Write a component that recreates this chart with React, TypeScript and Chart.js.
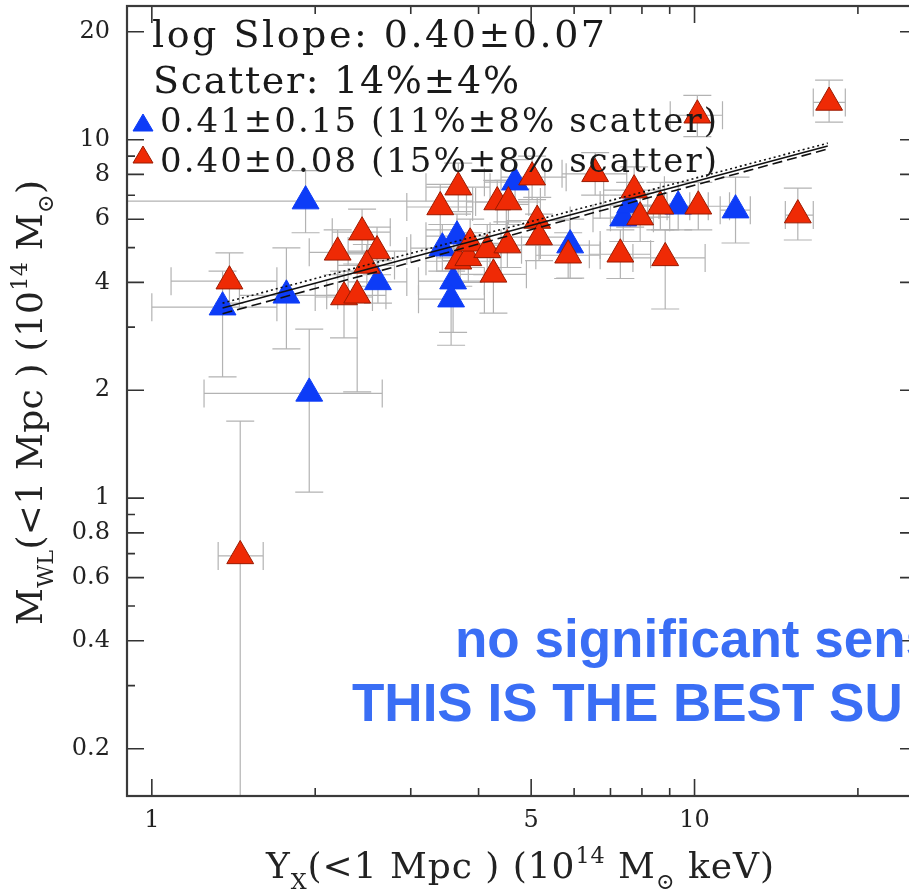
import React, { useEffect, useRef } from 'react';
import { Chart, registerables } from 'chart.js';

Chart.register(...registerables);

// ---------- data ----------
const redX = [1.39, 1.455, 2.20, 2.44, 2.60, 2.49, 2.26, 2.39, 3.40, 3.67, 3.67, 3.83, 3.86, 4.15, 4.26, 4.33, 4.54, 4.52, 5.02, 5.13, 5.17, 5.85, 6.56, 7.30, 7.74, 7.94, 8.65, 8.83, 10.16, 10.12, 15.5, 17.7];
const redY = [4.03, 0.69, 4.85, 5.52, 4.89, 4.46, 3.64, 3.68, 6.49, 7.37, 4.58, 4.68, 5.14, 4.93, 4.21, 6.70, 6.70, 5.08, 7.86, 5.95, 5.35, 4.76, 8.03, 4.79, 7.23, 6.08, 6.52, 4.68, 6.52, 11.7, 6.16, 12.7];
const redXLo = [1.085, 1.325, 1.95, 2.15, 2.3, 2.2, 2.0, 2.1, 2.95, 3.2, 3.2, 3.35, 3.4, 3.6, 3.7, 3.8, 3.95, 3.9, 4.4, 4.5, 4.5, 5.1, 5.7, 6.4, 6.8, 7.0, 7.6, 7.7, 8.9, 9.02, 14.7, 16.55];
const redXHi = [1.70, 1.604, 2.5, 2.75, 2.95, 2.8, 2.55, 2.7, 3.9, 4.2, 4.2, 4.4, 4.4, 4.8, 4.9, 4.95, 5.2, 5.2, 5.8, 5.9, 5.9, 6.7, 7.5, 8.3, 8.8, 9.0, 9.8, 10.46, 11.6, 11.26, 16.55, 18.96];
const redYLo = [3.5, 0.1, 4.2, 4.8, 4.2, 3.9, 2.80, 1.98, 5.6, 6.3, 3.9, 4.0, 4.4, 4.2, 3.28, 5.8, 5.8, 4.4, 6.8, 5.1, 4.6, 4.1, 7.0, 4.1, 6.2, 5.2, 5.6, 3.37, 5.6, 10.2, 5.25, 11.2];
const redYHi = [4.83, 1.64, 5.6, 6.4, 5.7, 5.1, 4.3, 4.5, 7.5, 8.6, 5.3, 5.5, 6.0, 5.8, 5.0, 7.7, 7.7, 5.9, 9.0, 6.9, 6.2, 5.5, 9.2, 5.6, 8.4, 7.1, 7.6, 5.6, 7.6, 13.3, 7.33, 14.66];

const blueX = [1.35, 1.77, 1.92, 1.95, 2.61, 3.43, 3.65, 3.59, 3.56, 4.67, 5.90, 7.39, 7.61, 9.33, 11.9];
const blueY = [3.41, 3.68, 6.74, 1.96, 4.01, 4.98, 5.38, 4.03, 3.59, 7.61, 5.08, 6.04, 6.57, 6.52, 6.36];
const blueXLo = [1.0, 1.45, 0.85, 1.248, 2.3, 3.0, 3.2, 3.1, 3.1, 4.1, 5.2, 6.5, 6.7, 8.2, 11.15];
const blueXHi = [1.70, 2.2, 3.9, 2.658, 2.95, 3.9, 4.2, 4.1, 4.1, 5.3, 6.7, 8.4, 8.6, 10.6, 12.67];
const blueYLo = [2.18, 2.61, 5.5, 1.04, 3.5, 4.3, 4.6, 2.9, 2.67, 6.6, 4.11, 5.2, 5.7, 5.6, 5.15];
const blueYHi = [4.3, 4.99, 8.2, 2.96, 4.6, 5.8, 6.2, 4.9, 4.3, 8.8, 6.0, 7.0, 7.6, 7.6, 7.86];

const fitX = [1.35, 17.6];
const fitSolid = [3.39, 9.6];
const fitDotted = [3.50, 9.78];
const fitDashed = [3.27, 9.42];

const xTickValues = [1, 5, 10];
const xTickLabels = ['1', '5', '10'];
const xMinorTicks = [2, 3, 4, 6, 7, 8, 9, 20];
const yTickValues = [0.2, 0.4, 0.6, 0.8, 1, 2, 4, 6, 8, 10, 20];
const yTickLabels = ['0.2', '0.4', '0.6', '0.8', '1', '2', '4', '6', '8', '10', '20'];
const yMinorTicks = [0.3, 0.5, 0.7, 0.9, 3, 5, 7, 9];

const statLines = ['log Slope: 0.40±0.07', 'Scatter: 14%±4%'];
const blueLegendText = '0.41±0.15 (11%±8% scatter)';
const redLegendText = '0.40±0.08 (15%±8% scatter)';
const overlayLines = ['no significant sens', 'THIS IS THE BEST SU'];

type Seg = { t: string; kind: 'n' | 'sub' | 'sup' };
const xTitleSegs: Seg[] = [
  { t: 'Y', kind: 'n' }, { t: 'X', kind: 'sub' }, { t: '(<1 Mpc ) (10', kind: 'n' },
  { t: '14', kind: 'sup' }, { t: ' M', kind: 'n' }, { t: '⊙', kind: 'sub' }, { t: ' keV)', kind: 'n' },
];
const yTitleSegs: Seg[] = [
  { t: 'M', kind: 'n' }, { t: 'WL', kind: 'sub' }, { t: '(<1 Mpc ) (10', kind: 'n' },
  { t: '14', kind: 'sup' }, { t: ' M', kind: 'n' }, { t: '⊙', kind: 'sub' }, { t: ')', kind: 'n' },
];

const RED = '#ef2a05';
const RED_EDGE = '#9b1a00';
const BLUE = '#0d3cf7';
const SERIF = '"DejaVu Serif", serif';

// ---------- text helpers ----------
function segFont(kind: string, size: number) {
  const s = kind === 'n' ? size : size * 0.62;
  return `${s}px ${SERIF}`;
}
function segShift(kind: string, size: number) {
  if (kind === 'sub') return size * 0.3;
  if (kind === 'sup') return -size * 0.42;
  return 0;
}
function drawSpaced(ctx: CanvasRenderingContext2D, segs: Seg[], x0: number, y0: number, size: number, target: number) {
  let w = 0;
  let n = 0;
  for (const s of segs) {
    ctx.font = segFont(s.kind, size);
    for (const ch of Array.from(s.t)) {
      w += ctx.measureText(ch).width;
      n += 1;
    }
  }
  const ls = n > 1 ? (target - w) / (n - 1) : 0;
  let x = x0;
  for (const s of segs) {
    ctx.font = segFont(s.kind, size);
    for (const ch of Array.from(s.t)) {
      ctx.fillText(ch, x, y0 + segShift(s.kind, size));
      x += ctx.measureText(ch).width + ls;
    }
  }
}

// ---------- plugins ----------
const errorBarPlugin = {
  id: 'errorBars',
  beforeDatasetsDraw(chart: any) {
    const { ctx, chartArea: a, scales } = chart;
    const xs = scales.x;
    const ys = scales.y;
    ctx.save();
    ctx.beginPath();
    ctx.rect(a.left, a.top, a.right - a.left, a.bottom - a.top);
    ctx.clip();
    ctx.strokeStyle = '#b3b3b3';
    ctx.lineWidth = 1.2;
    const cap = 14;
    const draw = (X: number[], Y: number[], xl: number[], xh: number[], yl: number[], yh: number[]) => {
      for (let i = 0; i < X.length; i++) {
        const px = xs.getPixelForValue(X[i]);
        const py = ys.getPixelForValue(Y[i]);
        const x1 = xs.getPixelForValue(xl[i]);
        const x2 = xs.getPixelForValue(xh[i]);
        const y1 = ys.getPixelForValue(yl[i]);
        const y2 = ys.getPixelForValue(yh[i]);
        ctx.beginPath();
        ctx.moveTo(x1, py); ctx.lineTo(x2, py);
        ctx.moveTo(x1, py - cap); ctx.lineTo(x1, py + cap);
        ctx.moveTo(x2, py - cap); ctx.lineTo(x2, py + cap);
        ctx.moveTo(px, y1); ctx.lineTo(px, y2);
        ctx.moveTo(px - cap, y1); ctx.lineTo(px + cap, y1);
        ctx.moveTo(px - cap, y2); ctx.lineTo(px + cap, y2);
        ctx.stroke();
      }
    };
    draw(blueX, blueY, blueXLo, blueXHi, blueYLo, blueYHi);
    draw(redX, redY, redXLo, redXHi, redYLo, redYHi);
    ctx.restore();
  },
};

const framePlugin = {
  id: 'frameAndText',
  afterDraw(chart: any) {
    const { ctx, chartArea: a, scales } = chart;
    const xs = scales.x;
    const ys = scales.y;
    ctx.save();
    // ticks
    ctx.strokeStyle = '#333';
    ctx.lineWidth = 1.6;
    const major = 17;
    const minor = 8;
    const xt = (v: number, len: number) => {
      const p = xs.getPixelForValue(v);
      ctx.beginPath();
      ctx.moveTo(p, a.bottom); ctx.lineTo(p, a.bottom - len);
      ctx.moveTo(p, a.top); ctx.lineTo(p, a.top + len);
      ctx.stroke();
    };
    const yt = (v: number, len: number) => {
      const p = ys.getPixelForValue(v);
      ctx.beginPath();
      ctx.moveTo(a.left, p); ctx.lineTo(a.left + len, p);
      ctx.moveTo(a.right, p); ctx.lineTo(a.right - len, p);
      ctx.stroke();
    };
    xTickValues.forEach((v) => xt(v, major));
    xMinorTicks.forEach((v) => xt(v, minor));
    yTickValues.forEach((v) => yt(v, major));
    yMinorTicks.forEach((v) => yt(v, minor));
    // frame
    ctx.lineWidth = 2.2;
    ctx.strokeStyle = '#3a3a3a';
    ctx.strokeRect(a.left, a.top, a.right - a.left, a.bottom - a.top);

    // annotations
    ctx.fillStyle = '#1a1a1a';
    ctx.textBaseline = 'alphabetic';
    ctx.textAlign = 'left';
    drawSpaced(ctx, [{ t: statLines[0], kind: 'n' }], 152, 47, 38, 453);
    drawSpaced(ctx, [{ t: statLines[1], kind: 'n' }], 153, 93, 38, 366);
    drawSpaced(ctx, [{ t: blueLegendText, kind: 'n' }], 160, 132, 34, 557);
    drawSpaced(ctx, [{ t: redLegendText, kind: 'n' }], 160, 172, 34, 557);

    const tri = (cx: number, cy: number, fill: string, edge: string) => {
      ctx.beginPath();
      ctx.moveTo(cx, cy - 10);
      ctx.lineTo(cx + 10, cy + 7);
      ctx.lineTo(cx - 10, cy + 7);
      ctx.closePath();
      ctx.fillStyle = fill;
      ctx.fill();
      ctx.strokeStyle = edge;
      ctx.lineWidth = 1;
      ctx.stroke();
    };
    tri(143, 124, BLUE, BLUE);
    tri(143, 156, RED, RED_EDGE);

    // axis titles
    ctx.fillStyle = '#222';
    drawSpaced(ctx, xTitleSegs, 266, 878, 36, 508);
    ctx.save();
    ctx.translate(42, 625);
    ctx.rotate(-Math.PI / 2);
    drawSpaced(ctx, yTitleSegs, 0, 0, 36, 445);
    ctx.restore();

    // overlay
    ctx.fillStyle = '#3a6ef5';
    ctx.font = `bold 53px "Liberation Sans", Arial, sans-serif`;
    ctx.fillText(overlayLines[0], 455, 657);
    ctx.fillText(overlayLines[1], 352, 721);
    ctx.restore();
  },
};

export default function App() {
  const ref = useRef<HTMLCanvasElement | null>(null);
  useEffect(() => {
    if (!ref.current) return;
    const pts = (xs: number[], ys: number[]) => xs.map((x, i) => ({ x, y: ys[i] }));
    const chart = new Chart(ref.current, {
      type: 'scatter',
      data: {
        datasets: [
          { type: 'line', label: 'fit', data: pts(fitX, fitSolid), borderColor: '#111', borderWidth: 1.6, pointRadius: 0, fill: false, tension: 0, order: 0 } as any,
          { type: 'line', label: 'fit dotted', data: pts(fitX, fitDotted), borderColor: '#111', borderWidth: 1.6, borderDash: [2, 3], pointRadius: 0, fill: false, tension: 0, order: 0 } as any,
          { type: 'line', label: 'fit dashed', data: pts(fitX, fitDashed), borderColor: '#111', borderWidth: 1.6, borderDash: [10, 5], pointRadius: 0, fill: false, tension: 0, order: 0 } as any,
          { label: 'red', data: pts(redX, redY), pointStyle: 'triangle', pointRadius: 15.5, backgroundColor: RED, borderColor: RED_EDGE, borderWidth: 1, order: 2 } as any,
          { label: 'blue', data: pts(blueX, blueY), pointStyle: 'triangle', pointRadius: 15.5, backgroundColor: BLUE, borderColor: BLUE, borderWidth: 1, order: 3 } as any,
        ],
      },
      options: {
        responsive: false,
        animation: false,
        devicePixelRatio: 1,
        events: [],
        layout: { autoPadding: false, padding: { top: 6, right: 13, left: 0, bottom: 0 } },
        plugins: { legend: { display: false }, tooltip: { enabled: false } },
        scales: {
          x: {
            type: 'logarithmic',
            min: 0.9,
            max: 25.7,
            afterFit: (s: any) => { s.height = 96; s.paddingLeft = 0; s.paddingRight = 0; },
            afterBuildTicks: (s: any) => { s.ticks = xTickValues.map((v) => ({ value: v })); },
            ticks: {
              autoSkip: false,
              maxRotation: 0,
              minRotation: 0,
              padding: 10,
              color: '#222',
              font: { family: 'DejaVu Serif', size: 24 },
              callback: (v: any) => xTickLabels[xTickValues.indexOf(Number(v))] ?? '',
            },
            grid: { display: false, drawTicks: false },
            border: { display: false },
          },
          y: {
            type: 'logarithmic',
            min: 0.1476,
            max: 23.6,
            afterFit: (s: any) => { s.width = 127; s.paddingTop = 0; s.paddingBottom = 0; },
            afterBuildTicks: (s: any) => { s.ticks = yTickValues.map((v) => ({ value: v })); },
            ticks: {
              autoSkip: false,
              padding: 17,
              color: '#222',
              font: { family: 'DejaVu Serif', size: 24 },
              callback: (v: any) => yTickLabels[yTickValues.indexOf(Number(v))] ?? '',
            },
            grid: { display: false, drawTicks: false },
            border: { display: false },
          },
        },
      } as any,
      plugins: [errorBarPlugin, framePlugin],
    });
    return () => chart.destroy();
  }, []);

  return (
    <div style={{ position: 'fixed', left: 0, top: 0, width: 909, height: 892, overflow: 'hidden', background: '#fff' }}>
      <canvas ref={ref} width={930} height={892} style={{ position: 'absolute', left: 0, top: 0, width: 930, height: 892 }} />
    </div>
  );
}
